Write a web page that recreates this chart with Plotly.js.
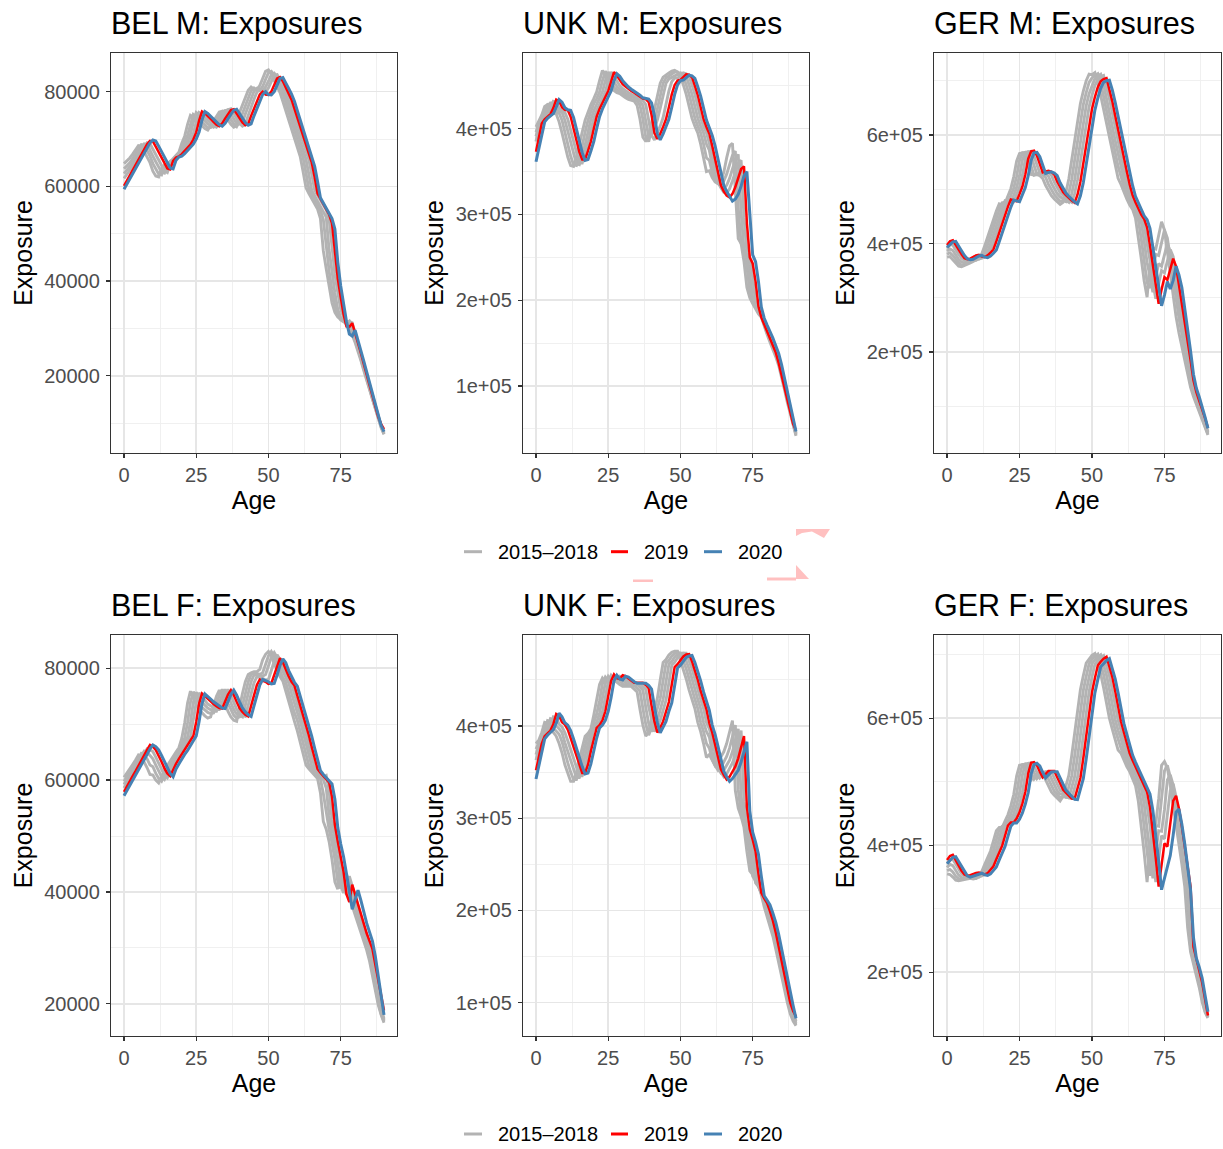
<!DOCTYPE html>
<html>
<head>
<meta charset="utf-8">
<script src="https://cdn.plot.ly/plotly-3.0.1.min.js"></script>
<style>html,body{margin:0;padding:0;background:#fff;}#chart{width:1223px;height:1149px;}</style>
</head>
<body>
<div id="chart"></div>
<script>
// ---------- DATA (exposure values in thousands) ----------
const AGES = [0,1,2,3,4,5,6,7,8,9,10,11,12,13,14,15,16,17,18,19,20,21,22,23,24,25,26,27,28,29,30,31,32,33,34,35,36,37,38,39,40,41,42,43,44,45,46,47,48,49,50,51,52,53,54,55,56,57,58,59,60,61,62,63,64,65,66,67,68,69,70,71,72,73,74,75,76,77,78,79,80,81,82,83,84,85,86,87,88,89,90];
const SCALE = 1000;
const SERIES_NAMES = ['2015\u20132018', '2019', '2020'];
const PANEL_TITLES = ['BEL M: Exposures','UNK M: Exposures','GER M: Exposures','BEL F: Exposures','UNK F: Exposures','GER F: Exposures'];

// BEL M
const BEL_M_2015 = [64.8,65.3,66.0,66.8,67.7,68.6,68.5,67.4,66.2,65.0,63.2,62.2,62.0,63.8,64.5,64.7,65.2,65.9,66.6,67.2,69.1,70.6,73.1,75.0,74.6,74.0,73.4,72.8,72.2,71.9,72.9,73.9,74.9,75.7,75.9,75.0,74.0,73.1,72.5,72.8,75.6,77.2,78.8,80.3,81.0,80.5,80.5,81.3,82.8,84.3,84.6,83.7,82.4,81.2,79.8,77.9,76.0,74.1,72.4,70.5,68.3,66.3,63.1,59.7,58.5,57.4,56.3,55.2,53.2,46.4,42.6,38.6,35.4,33.4,32.4,31.9,31.6,30.8,29.8,28.6,27.0,25.2,23.2,21.1,19.0,16.9,14.8,12.7,10.7,9.0,7.6];
const BEL_M_2016 = [63.7,64.3,65.0,65.9,66.9,68.0,68.8,68.7,67.6,66.4,64.8,63.6,62.6,62.4,64.2,64.9,65.1,65.6,66.3,67.0,68.2,69.3,70.8,73.3,75.2,74.8,74.2,73.6,73.0,72.4,72.4,73.0,74.0,75.0,75.8,76.0,75.1,74.1,73.2,72.6,73.7,75.4,77.1,78.7,80.2,80.8,80.3,80.3,81.1,82.6,84.0,84.3,83.4,82.1,80.9,79.5,77.6,75.7,73.8,72.1,70.0,68.0,66.0,62.8,59.4,58.3,57.1,56.0,54.9,53.0,47.3,42.1,38.1,34.8,32.8,31.8,31.4,31.3,30.5,29.2,27.6,25.7,23.7,21.5,19.4,17.2,15.1,13.0,10.9,9.2,7.7];
const BEL_M_2017 = [62.7,63.4,64.2,65.1,66.1,67.2,68.3,69.0,68.9,67.8,66.4,65.2,64.0,63.0,62.8,64.6,65.3,65.5,66.0,66.7,67.8,68.4,69.5,71.0,73.5,75.6,75.1,74.4,73.8,73.2,72.8,72.5,73.1,74.1,75.1,76.0,76.2,75.3,74.3,73.3,73.2,73.5,75.3,77.0,78.6,80.1,80.7,80.2,80.2,81.0,82.2,83.6,83.9,83.0,81.7,80.5,79.1,77.2,75.3,73.4,71.6,69.7,67.7,65.7,62.5,59.1,58.0,56.9,55.8,54.6,53.5,46.6,41.5,37.5,34.0,32.3,31.8,31.0,31.5,30.0,28.2,26.3,24.2,22.0,19.8,17.6,15.4,13.3,11.2,9.4,7.8];
const BEL_M_2018 = [61.7,62.5,63.4,64.4,65.4,66.4,67.5,68.5,69.2,69.0,67.9,66.8,65.6,64.4,63.3,62.9,64.6,65.5,65.9,66.4,67.2,67.9,68.5,69.6,71.1,73.6,75.6,75.2,74.6,74.0,73.4,72.8,72.5,73.1,74.2,75.3,76.2,76.4,75.4,74.3,73.3,72.7,73.1,75.0,76.8,78.4,79.9,80.5,80.0,80.0,80.8,82.2,83.5,83.6,82.6,81.3,80.0,78.6,76.8,74.9,73.0,71.3,69.5,67.5,65.6,62.5,59.2,58.1,57.1,56.0,55.0,53.1,46.5,41.5,37.6,34.0,32.5,31.2,31.5,31.2,29.0,27.0,24.9,22.6,20.4,18.1,15.9,13.7,11.5,9.6,8.0];
const BEL_M_2019 = [60.1,61.2,62.3,63.4,64.5,65.6,66.7,67.8,68.9,69.6,69.5,68.4,67.2,66.0,64.8,63.8,63.6,65.4,66.1,66.3,66.8,67.5,68.2,68.8,69.9,71.4,73.9,75.8,75.4,74.8,74.2,73.6,73.0,72.7,73.3,74.3,75.3,76.1,76.3,75.4,74.4,73.5,72.9,73.2,74.9,76.5,78.0,79.4,80.0,79.4,79.3,80.0,81.4,82.8,83.1,82.2,80.9,79.7,78.3,76.4,74.5,72.6,70.9,69.0,67.0,65.0,61.9,58.5,57.4,56.3,55.2,54.1,52.2,45.5,40.5,36.6,33.0,30.4,30.3,31.1,29.1,27.0,24.8,22.5,20.2,17.9,15.7,13.5,11.3,9.8,8.7];
const BEL_M_2020 = [59.4,60.5,61.6,62.7,63.8,64.9,66.0,67.1,68.2,69.2,69.8,69.6,68.5,67.3,66.1,64.9,63.9,63.7,65.5,66.2,66.4,66.9,67.6,68.3,68.9,70.0,71.5,74.0,75.8,75.4,74.8,74.2,73.6,73.0,72.7,73.3,74.3,75.3,76.1,76.3,75.4,74.4,73.5,72.9,73.2,74.9,76.5,78.0,79.4,80.0,79.4,79.3,80.0,81.4,82.8,83.0,82.0,80.7,79.5,78.0,76.0,74.0,72.0,70.3,68.3,66.2,64.2,61.0,57.6,56.5,55.4,54.3,53.2,51.0,44.0,39.0,35.0,31.5,28.8,28.4,29.6,27.6,25.4,23.1,20.8,18.5,16.2,14.0,11.8,9.5,8.2];

// UNK M
const UNK_M_2015 = [402,409,416,426,428,421,418,417,408,395,381,367,357,356,367,380,396,410,420,428,435,443,456,468,461,452,447,444,442,441,438,436,434,433,432,427,411,390,385,392,407,422,439,453,460,463,465,467,468,466,461,451,440,426,412,403,395,382,366,350,351,343,338,336,340,349,366,380,383,320,272,266,245,215,203,196,189,184,180,169,160,151,143,134,124,111,96,81,67,53,42];
const UNK_M_2016 = [396,407,412,419,428,429,422,419,418,410,396,382,368,358,357,368,380,396,410,420,429,435,443,456,467,460,453,448,445,443,440,438,436,434,433,432,427,411,390,385,399,408,423,440,453,459,461,463,466,466,464,461,451,440,426,412,403,395,382,366,363,349,342,336,334,339,347,358,369,374,308,266,260,239,210,198,192,186,182,171,162,154,146,137,127,114,99,84,70,55,43];
const UNK_M_2017 = [391,405,410,414,421,430,430,423,420,419,410,397,383,369,359,358,369,381,396,411,421,429,435,443,456,466,460,454,449,446,443,441,439,437,435,433,432,427,411,391,392,400,410,424,440,453,458,460,461,463,465,464,461,451,440,426,412,403,395,382,375,357,344,337,332,330,334,342,354,364,370,302,260,253,231,203,194,189,185,174,165,157,149,140,130,117,102,87,72,57,44];
const UNK_M_2018 = [385,402,409,413,416,423,432,431,424,421,419,411,398,384,370,360,360,371,383,398,412,421,429,435,443,456,466,461,455,450,447,444,442,440,438,436,434,433,428,412,392,387,394,403,413,428,444,455,459,459,462,465,464,461,451,440,426,412,403,395,383,367,350,338,331,326,325,330,339,350,360,363,296,256,248,227,198,192,188,176,168,160,152,143,134,121,106,90,75,59,45];
const UNK_M_2019 = [373,392,406,411,414,417,424,434,432,425,422,421.5,414,401,387,373,364,364,374,385,400,414,423,431,437,444,456,466,462,457,452,449,446,444,442,439.5,437,435,434.5,431,416,395,388,394,402,411,425,440,451,456,457,460,463.5,463,460,450,439,425,411,402,394,380,364,347,334,327,322,320,324,332,343,353,356,290,250,243,222,193,180,172,165,157,148,139,127,112,97,82,67,56,48];
const UNK_M_2020 = [361.5,378,395,408,412,414.5,417.5,425,434,431,424.5,422,421.5,413,400,386,372,363,364,374,385,400,414,423,431,437,444,456,464,461,456,452,448.5,446,444,442,439,436,435,434.5,430,415,394,387,394,402,411,425,440,451,456,456.7,460,462.5,461.5,458.7,449,438,424,410,401,392,380,364,349,334,327,321,315.5,318,323.5,333,345,350,300,253,245,222,192,179,171,164,156,147,138,125,110,94,79,63,47];

// GER M
const GER_M_2015 = [375,376,370,363,358,357,359,362,364,367,370,375,381,396,413,430,445,460,473,471,474,487,501,523,552,566,567,558,541,527,526,527,525,520,507,496,488,482,476,472,476,494,519,554,590,626,658,681,700,712,711,715,697,673,647,620,594,569,544,520,509,495,482,471,463,447,412,372,331,301,362,392,390,418,440,425,385,342,302,265,235,210,180,155,135,118,104,90,75,60,47];
const GER_M_2016 = [380,383,378,371,364,360,361,364,366,369,369,372,377,383,398,415,432,447,462,475,476,475,488,502,524,553,567,568,559,542,526,528,529,527,522,509,498,490,484,478,479,477,493,518,553,588,624,656,678,697,705,710,713,695,671,645,618,592,567,542,524,504,490,477,467,458,443,408,369,328,318,350,380,378,405,425,410,372,332,295,262,233,200,165,140,123,109,95,79,63,49];
const GER_M_2017 = [386,390,387,379,371,366,364,366,369,371,372,371,374,379,385,400,417,434,449,464,479,477,476,489,503,525,554,568,569,560,542,528,530,531,529,524,511,500,492,486,483,479,476,492,517,552,587,622,654,676,692,704,709,712,693,669,643,616,590,565,544,519,499,486,472,462,454,439,404,365,340,310,338,363,358,382,400,385,350,313,280,250,218,178,148,128,113,99,83,66,51];
const GER_M_2018 = [391,398,397,388,380,373,369,368,371,374,377,374,373,376,381,387,402,419,436,451,467,480,478,477,490,504,526,555,569,570,561,544,530,532,533,531,526,513,502,494,489,483,479,476,492,517,551,586,621,652,673,691,703,708,710,691,667,641,614,588,564,538,514,494,481,468,458,450,434,400,369,328,298,326,350,346,370,389,376,342,306,272,240,200,160,133,118,104,88,70,53];
const GER_M_2019 = [397,404,406,397,388,380,373,371,372,375,378,379,376,375,378,383,389,404,421,438,453,468,481,479,478,491,505,527,556,570,571,562,545,531,533,534,532,527,514,503,495,489,483,479,475,490,514,548,582,617,648,670,688,699,703,705,686,662,636,609,583,558,533,509,489,476,463,453,445,430,396,358,318,289,315,338,333,355,372,358,325,290,258,226,185,148,126,110,95,78,60];
const GER_M_2020 = [393,398,403,404,395,386,378,372,370,371,374,377,378,375,374,377,382,388,403,420,437,452,467,480,478,477,490,503,525,553,567,568,560,543,529,531,532,530,525,512,501,493,487,481,477,473,488,512,546,580,615,646,668,686,697,700,701,683,660,634,607,581,556,531,507,487,474,461,451,444,428,393,355,314,285,305,330,316,332,358,342,319,282,244,202,159,133,117,100,80,59];

// BEL F
const BEL_F_2015 = [60.5,61.2,62.0,62.8,63.6,64.5,64.2,63.3,62.2,61.0,60.9,60.0,59.5,60.7,61.7,62.6,63.4,64.1,65.0,65.8,67.5,70.2,73.8,75.9,74.6,73.5,72.6,72.0,71.5,71.1,71.3,73.3,75.0,76.1,75.2,73.7,72.3,71.3,70.7,70.5,73.3,75.5,77.6,78.9,79.2,79.4,79.4,79.8,81.5,82.5,83.0,82.3,80.8,79.6,78.5,77.7,75.8,74.0,72.1,70.5,68.8,66.7,64.6,62.7,62.0,61.4,60.9,60.3,57.7,52.6,51.2,49.0,45.8,41.8,40.5,44.4,42.7,40.8,39.2,37.5,35.9,34.4,32.8,31.3,29.6,27.6,25.0,22.2,19.8,18.0,16.6];
const BEL_F_2016 = [59.8,60.6,61.4,62.2,63.0,63.9,64.8,64.6,63.8,62.7,62.4,61.2,60.3,59.8,61.0,62.0,62.9,63.7,64.4,65.3,66.6,67.6,70.3,73.9,75.8,74.7,73.8,73.0,72.5,72.1,71.9,72.0,73.6,75.2,76.2,75.2,73.7,72.5,71.6,71.1,71.3,73.3,75.6,77.6,78.9,79.1,79.1,78.9,79.2,80.9,82.2,83.0,82.1,80.6,79.4,78.3,77.5,75.6,73.8,72.0,70.7,68.7,66.6,64.4,62.6,61.9,61.3,60.8,60.2,57.6,54.1,51.1,48.8,45.8,41.8,40.6,44.2,42.5,40.6,39.0,37.3,35.6,34.0,32.4,30.6,28.7,26.0,23.0,20.3,18.2,16.8];
const BEL_F_2017 = [59.2,60.0,60.8,61.7,62.6,63.5,64.4,65.2,65.0,64.3,63.8,62.7,61.5,60.6,60.1,61.3,62.3,63.2,64.0,64.7,65.9,66.7,67.7,70.4,73.9,75.7,74.8,74.0,73.4,72.9,72.6,72.3,72.3,73.8,75.3,76.2,75.2,73.8,72.6,71.8,71.5,71.3,73.4,75.6,77.6,78.8,78.8,78.8,78.6,78.9,80.4,82.0,82.8,81.9,80.4,79.3,78.2,77.4,75.5,73.7,72.1,70.6,68.5,66.4,64.3,62.5,61.8,61.2,60.7,60.1,58.6,53.6,50.5,48.2,45.1,41.2,39.8,43.2,41.5,39.6,37.9,36.2,34.6,33.0,31.4,29.6,27.0,24.0,21.0,18.6,17.0];
const BEL_F_2018 = [58.6,59.4,60.3,61.2,62.2,63.1,64.0,64.9,65.6,65.4,65.1,64.1,63.0,61.8,60.9,60.4,61.6,62.6,63.5,64.3,65.1,66.0,66.8,67.8,70.5,73.9,75.6,74.9,74.2,73.6,73.3,72.9,72.6,72.6,73.9,75.3,76.2,75.2,73.9,72.7,72.1,71.6,71.4,73.4,75.5,77.4,78.5,78.4,78.2,77.9,78.0,79.6,81.3,82.4,81.6,80.2,79.0,78.0,77.2,75.4,73.7,71.9,70.4,68.3,66.2,64.1,62.3,61.6,61.0,60.5,60.8,58.1,53.0,50.0,47.8,44.8,40.8,39.5,42.8,41.0,39.0,37.2,35.6,34.0,32.4,30.9,28.4,25.5,22.3,19.3,17.3];
const BEL_F_2019 = [57.9,58.9,59.8,60.7,61.6,62.6,63.6,64.5,65.4,66.3,66.0,65.4,64.4,63.3,62.1,61.2,60.7,61.9,62.9,63.8,64.6,65.3,66.2,67.0,67.9,70.4,73.7,75.5,75.0,74.5,74.0,73.6,73.2,72.9,72.8,74.0,75.3,76.1,75.2,74.0,72.9,72.2,71.7,71.4,73.2,75.2,77.0,78.0,77.8,77.6,77.2,77.3,78.8,80.5,81.8,81.1,79.7,78.6,77.6,76.9,75.1,73.3,71.5,70.0,68.0,65.9,63.8,62.0,61.3,60.7,60.2,59.6,57.0,52.0,49.0,46.6,43.6,39.6,38.2,41.3,39.5,37.6,35.9,34.2,32.6,31.2,29.8,27.0,24.2,21.4,18.8];
const BEL_F_2020 = [57.2,58.1,59.0,59.9,60.8,61.8,62.8,63.7,64.6,65.6,66.3,66.0,65.4,64.4,63.3,62.1,61.2,60.6,62.0,62.9,63.8,64.6,65.3,66.2,67.0,67.9,70.5,73.7,75.4,75.0,74.5,74.0,73.6,73.2,72.9,72.8,74.0,75.3,76.1,75.2,74.0,72.9,72.2,71.7,71.4,73.2,75.2,77.0,78.0,77.8,77.6,77.2,77.3,78.8,80.5,81.7,81.0,79.6,78.5,77.5,76.8,75.0,73.2,71.3,69.8,67.8,65.7,63.6,61.7,61.0,60.4,59.9,59.3,56.6,51.5,48.6,46.3,43.3,39.7,36.9,38.6,40.3,38.5,36.4,34.4,32.8,31.2,28.5,25.2,21.5,18.0];

// UNK F
const UNK_F_2015 = [381,385,393,404,403,396,393,389,381,371,358,348,340,340,349,364,378,389,392,397,412,427,445,452,448,447,451,450,447,445,443,443,443,443,440,437,418,401,389,394,407,419,430,450,469,472,477,480,481,481,471,462,451,439,429,419,404,394,381,366,369,363,357,361,366,372,381,395,406,330,311,302,290,264,243,239,235,227,217,204,194,184,172,158,143,127,113,100,88,80,75];
const UNK_F_2016 = [375,382,388,396,406,405,398,395,391,383,370,360,350,342,342,351,366,380,391,394,403,413,428,446,453,449,448,452,451,448,446,444,444,444,444,441,438,419,402,390,399,407,419,430,449,468,471,476,479,480,479,471,462,451,439,429,419,404,394,381,376,364,357,352,355,361,367,376,389,401,331,305,296,282,259,237,232,227,219,208,199,190,179,165,150,134,119,105,92,83,76];
const UNK_F_2017 = [369,380,386,391,398,408,407,400,397,393,382,372,362,352,344,344,353,368,382,393,399,404,414,429,447,454,450,449,453,452,449,447,445,445,445,445,442,439,420,403,394,399,406,418,429,448,467,470,475,478,479,479,471,462,451,439,429,419,404,394,388,372,360,354,349,352,357,363,372,386,397,324,300,288,277,252,230,226,220,211,203,195,185,172,157,141,126,111,97,86,78];
const UNK_F_2018 = [363,376,385,389,393,400,410,409,402,399,393,384,374,364,354,346,346,355,370,384,397,400,405,415,430,448,455,451,450,454,453,450,448,446,446,446,446,443,440,421,406,394,399,406,417,428,447,466,469,474,477,479,479,471,462,451,439,429,419,404,397,384,369,357,350,345,348,354,360,369,384,395,318,294,283,269,247,226,219,214,207,199,190,179,164,148,133,118,103,90,80];
const UNK_F_2019 = [352,367,381,389,392,395,402,413,411,404,401.5,396,387,377,367,357,349,349,358,373,387,398,401,406,416,431,449,456,452,451,455,454,451,449,447,447,447,447,444.5,441,422,405,393,398,405,416,426,445,464,467,472,475.5,477.5,478,470,461,450,438,428,418,403,393,380,365,353,347,342,345,350,356,365,378,389,312,288,277,264,240,219,213,208,199,189,176,160,144,129,114,100,91,85];
const UNK_F_2020 = [342.5,357,372,386,390,392.5,396,403,414,410,403.5,401,395,386,375.5,366,356,348,349,359,374,387,398,401,406,416,431,449,455,451,450,454,453,450,448,446.5,446.3,446.3,446.3,444,440,421,404,392.5,398,405,416,425,444,463,466,471,474.5,476,476.5,469,460,449,437,427,417,401,391,378,363,351,345,340,343,348,352,361,373,383,308,285,274,261,237,216,211,206,197,187,174,158,142,127,112,97,83];

// GER F
const GER_F_2015 = [355,354,350,345,344,345,347,348,348,347,348,353,359,370,380,391,407,423,428,428,438,448,462,480,509,526,527,522,512,503,508,513,513,513,503,492,484,479,474,470,477,493,510,541,576,613,645,667,687,693,699,702,686,670,648,621,600,583,567,550,545,534,524,516,505,494,469,431,388,342,396,435,434,473,526,532,522,494,464,431,400,370,335,270,232,214,198,176,153,137,128];
const GER_F_2016 = [360,362,358,351,347,346,347,349,351,350,348,350,355,361,372,382,393,409,425,430,433,439,449,463,481,510,527,528,523,513,504,509,514,514,514,504,493,485,480,475,476.5,476,492,509,540,575,612,644,666,686,693,698,701,685,669,647,620,599,582,566,553,542,532,522,514,502,491,467,429,386,352,392,431,430,469,517,526,508,482,452,420,388,352,300,240,218,202,182,158,139,129];
const GER_F_2017 = [365,370,368,360,353,349,348,350,352,353,351,350,352,357,363,374,384,395,411,427,434,434,440,450,464,482,511,528,529,524,514,505,510,515,515,515,505,494,486,481,480,475.5,475,491,508,539,574,611,643,665,686,692,697,700,684,668,646,619,598,581,568,550,539,529,519,511,500,489,465,427,395,348,389,423,422,456,503,511,495,464,433,400,366,330,250,222,206,188,164,142,130];
const GER_F_2018 = [371,377,378,370,362,355,351,350,352,354,355,353,352,354,359,365,376,386,397,413,430,435,435,441,451,465,483,512,529,530,525,515,506,511,516,516,516,506,495,487,484,479,474.5,474,490,507,538,573,610,642,665,685,691,696,699,683,667,645,618,597,581,565,548,537,527,517,509,497,486,462,431,388,342,379,415,410,445,486,497,476,445,412,380,345,262,226,210,195,170,146,132];
const GER_F_2019 = [377,383,385,376,368,360,354,352,353,355,356.5,357,355,354,356,361,367,378,388,399,415,431,436,436,442,452,466,484,513,530,531,526,516,507,512,517,517,517,507,496,488,483,478,473.5,473,489,506,537,572,609,641,663,683,689,694,697,681,665,643,616,595,578,562,545,534,524,514,506,495,484,460,423,380,335,370,403,398,430,470,478,458,430,400,368,335,240,220,204,184,158,132];
const GER_F_2020 = [371,376,381,382,374,366,358,352,350,351.5,353,355,356,353.5,352.5,355,360,366,377,387,398,414,430,435,435,441,451,465,483,512,527,529,525,515,506,511,515.5,516,516,506,495,487,482,477,472.5,472,488,505,536,571,608,640,661,681,686,691,694,678,662,640,613,592,575,559,542,531,521,511,503,492,481,455,418,375,330,348,369,384,416,452,457,433,402,366,330,255,222,208,191,164,138];

// Tick labels
const BEL_TICKS = [20000, 40000, 60000, 80000];
const BEL_TICKTEXT = ['20000', '40000', '60000', '80000'];
const UNK_TICKS = [100000, 200000, 300000, 400000];
const UNK_TICKTEXT = ['1e+05', '2e+05', '3e+05', '4e+05'];
const GER_TICKS = [200000, 400000, 600000];
const GER_TICKTEXT = ['2e+05', '4e+05', '6e+05'];
const AGE_TICKS = [0, 25, 50, 75];
const AGE_TICKTEXT = ['0', '25', '50', '75'];

// ---------- LAYOUT / STYLE ----------
const W = 1223, H = 1149;
const FONT = 'Liberation Sans, Arial, Helvetica, sans-serif';
const GREY = '#b3b3b3', RED = '#ff0000', BLUE = '#4682b4';
const GRID = '#e6e6e6', GRID_MINOR = '#eeeeee';
const COLS = [[111, 397], [523, 809], [934, 1221]];
const ROWS = [[53, 453], [635, 1036]];
const px2x = p => p / W;
const px2y = p => 1 - p / H;

const panels = [
  {grey:[BEL_M_2015,BEL_M_2016,BEL_M_2017,BEL_M_2018], r:BEL_M_2019, b:BEL_M_2020, ticks:BEL_TICKS, tt:BEL_TICKTEXT, minor:[10000,30000,50000,70000], range:[3675,88173], col:0, row:0},
  {grey:[UNK_M_2015,UNK_M_2016,UNK_M_2017,UNK_M_2018], r:UNK_M_2019, b:UNK_M_2020, ticks:UNK_TICKS, tt:UNK_TICKTEXT, minor:[50000,150000,250000,350000,450000], range:[21911,488228], col:1, row:0},
  {grey:[GER_M_2015,GER_M_2016,GER_M_2017,GER_M_2018], r:GER_M_2019, b:GER_M_2020, ticks:GER_TICKS, tt:GER_TICKTEXT, minor:[100000,300000,500000,700000], range:[13825,751152], col:2, row:0},
  {grey:[BEL_F_2015,BEL_F_2016,BEL_F_2017,BEL_F_2018], r:BEL_F_2019, b:BEL_F_2020, ticks:BEL_TICKS, tt:BEL_TICKTEXT, minor:[10000,30000,50000,70000], range:[14222,85957], col:0, row:1},
  {grey:[UNK_F_2015,UNK_F_2016,UNK_F_2017,UNK_F_2018], r:UNK_F_2019, b:UNK_F_2020, ticks:UNK_TICKS, tt:UNK_TICKTEXT, minor:[50000,150000,250000,350000,450000], range:[63883,498698], col:1, row:1},
  {grey:[GER_F_2015,GER_F_2016,GER_F_2017,GER_F_2018], r:GER_F_2019, b:GER_F_2020, ticks:GER_TICKS, tt:GER_TICKTEXT, minor:[100000,300000,500000,700000], range:[99685,731181], col:2, row:1}
];

const traces = [];
const layout = {
  width: W, height: H,
  margin: {l:0, r:0, t:0, b:0},
  paper_bgcolor: '#ffffff', plot_bgcolor: '#ffffff',
  font: {family: FONT, color: '#000000'},
  showlegend: false,
  annotations: [], shapes: []
};

panels.forEach((p, i) => {
  const n = i + 1;
  const xa = n === 1 ? 'x' : 'x' + n;
  const ya = n === 1 ? 'y' : 'y' + n;
  const toY = arr => arr.map(v => v * SCALE);
  p.grey.forEach(g => traces.push({type:'scatter', mode:'lines', x:AGES, y:toY(g), xaxis:xa, yaxis:ya,
    name:SERIES_NAMES[0], line:{color:GREY, width:2.9}, hoverinfo:'skip'}));
  traces.push({type:'scatter', mode:'lines', x:AGES, y:toY(p.r), xaxis:xa, yaxis:ya, name:SERIES_NAMES[1], line:{color:RED, width:2.5}});
  traces.push({type:'scatter', mode:'lines', x:AGES, y:toY(p.b), xaxis:xa, yaxis:ya, name:SERIES_NAMES[2], line:{color:BLUE, width:3}});

  const c = COLS[p.col], r = ROWS[p.row];
  const common = {
    showline:true, mirror:true, linecolor:'#333333', linewidth:1.2,
    ticks:'outside', ticklen:4, tickwidth:1.2, tickcolor:'#333333',
    showgrid:true, gridcolor:GRID, gridwidth:1.6, zeroline:false,
    tickfont:{family:FONT, size:20, color:'#4d4d4d'},
    tickmode:'array', fixedrange:true
  };
  layout[n === 1 ? 'xaxis' : 'xaxis' + n] = Object.assign({}, common, {
    domain:[px2x(c[0]), px2x(c[1])], anchor:ya, range:[-4.5, 94.5],
    tickvals:AGE_TICKS, ticktext:AGE_TICKTEXT,
    minor:{tickmode:'array', tickvals:[12.5,37.5,62.5,87.5], showgrid:true, gridcolor:GRID_MINOR, gridwidth:0.9, ticks:''},
    title:{text:'Age', font:{family:FONT, size:25, color:'#000000'}, standoff:6}
  });
  layout[n === 1 ? 'yaxis' : 'yaxis' + n] = Object.assign({}, common, {
    domain:[px2y(r[1]), px2y(r[0])], anchor:xa, range:p.range,
    tickvals:p.ticks, ticktext:p.tt, ticklabelstandoff:2,
    minor:{tickmode:'array', tickvals:p.minor, showgrid:true, gridcolor:GRID_MINOR, gridwidth:0.9, ticks:''},
    title:{text:'Exposure', font:{family:FONT, size:25, color:'#000000'}, standoff:4}
  });
  layout.annotations.push({text:PANEL_TITLES[i], xref:'paper', yref:'paper', x:px2x(c[0] - 2), y:px2y(r[0] - 30),
    xanchor:'left', yanchor:'middle', showarrow:false, font:{family:FONT, size:30.5, color:'#000000'}});
});

// ---------- Legends (one under each row) ----------
const LEG_ROWS = [551.7, 1134];
const LEG_ITEMS = [
  {name:SERIES_NAMES[0], color:GREY, key:[464, 482], text:496},
  {name:SERIES_NAMES[1], color:RED, key:[611, 628], text:642},
  {name:SERIES_NAMES[2], color:BLUE, key:[704, 722], text:736}
];
LEG_ROWS.forEach(yy => {
  LEG_ITEMS.forEach(it => {
    layout.shapes.push({type:'line', xref:'paper', yref:'paper', x0:px2x(it.key[0]), x1:px2x(it.key[1]), y0:px2y(yy), y1:px2y(yy),
      line:{color:it.color, width:3}});
    layout.annotations.push({text:it.name, xref:'paper', yref:'paper', x:px2x(it.text), y:px2y(yy), xanchor:'left', yanchor:'middle',
      showarrow:false, font:{family:FONT, size:20, color:'#000000'}});
  });
});

// faint pink artefact visible in the reference near the first legend
const PINK = 'rgb(255,192,192)';
const pinkPolys = [
  [[796,529],[830,529],[824,538],[812,531.5],[802,533],[796,536]],
  [[796,565],[796,579],[809,579]],
  [[767,577.5],[796,577.5],[796,580.5],[767,580.5]],
  [[633,579.5],[653,579.5],[653,582],[633,582]]
];
pinkPolys.forEach(poly => {
  const path = poly.map((pt, k) => (k ? 'L' : 'M') + px2x(pt[0]).toFixed(5) + ',' + px2y(pt[1]).toFixed(5)).join(' ') + ' Z';
  layout.shapes.push({type:'path', xref:'paper', yref:'paper', path:path, fillcolor:PINK, line:{width:0}, layer:'above'});
});

Plotly.newPlot('chart', traces, layout, {displayModeBar:false, staticPlot:true});
</script>
</body>
</html>
